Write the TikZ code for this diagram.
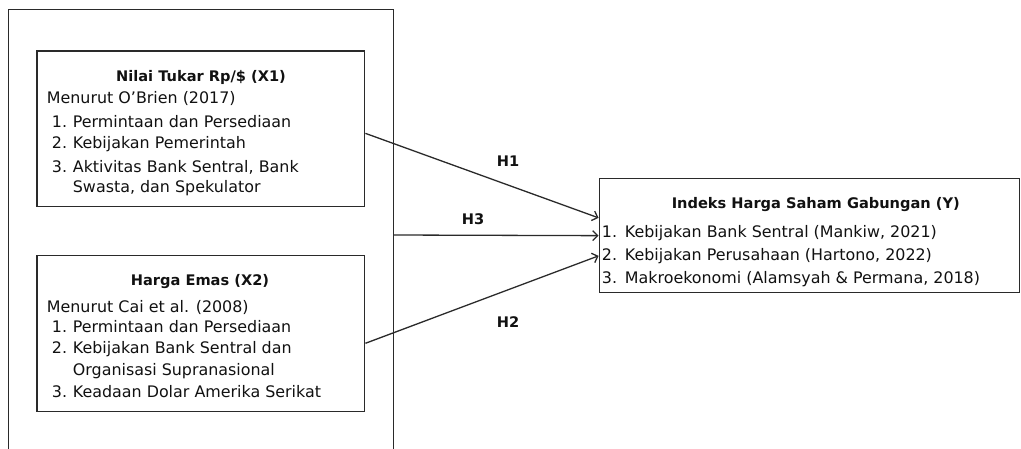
\documentclass[tikz,border=0pt]{standalone}
\usepackage{fontspec}
\setmainfont{DejaVu Sans}
\usetikzlibrary{arrows.meta}
\definecolor{ln}{HTML}{2A2A2A}
\definecolor{tx}{HTML}{111111}
\tikzset{
  box/.style={draw=ln, line width=1.45pt, inner sep=0pt, fill=none},
  txt/.style={anchor=base west, inner sep=0pt, text=tx, font=\fontsize{15.9}{19}\selectfont},
  ttl/.style={anchor=base, inner sep=0pt, text=tx, font=\fontsize{14.6}{18}\selectfont\bfseries},
  conn/.style={draw=ln, line width=1.3pt, -{Straight Barb[length=5pt,width=10pt,line width=1.3pt]}},
  hlab/.style={anchor=center, inner sep=0pt, text=tx, font=\fontsize{14.6}{18}\selectfont\bfseries}
}
\newcommand{\numA}[1]{\makebox[21pt][l]{#1}}
\newcommand{\numB}[1]{\makebox[23pt][l]{#1}}
\begin{document}
\begin{tikzpicture}[x=1pt,y=-1pt]
\useasboundingbox (0,0) rectangle (1021,448);
% outer frame (bottom edge lies outside the picture)
\draw[ln, line width=1.45pt] (8.5,452) -- (8.5,9.5) -- (393.3,9.5) -- (393.3,452);
\coordinate (o3) at (393.3,235);

% boxes
\node[box, minimum width=327.7pt, minimum height=155.7pt] (x1) at (200.85,128.85) {};
\node[box, minimum width=327.7pt, minimum height=156.2pt] (x2) at (200.85,333.6) {};
\node[box, minimum width=420.2pt, minimum height=114.1pt] (y) at (809.4,235.65) {};

% X1 text
\node[ttl] (x1t) at (201,81.3) {Nilai Tukar Rp/\$ (X1)};
\node[txt] (x1a) at (46.7,103.3) {Menurut O’Brien (2017)};
\node[txt] (x1b) at (51.7,127) {\numA{1.}Permintaan dan Persediaan};
\node[txt] (x1c) at (51.7,148.6) {\numA{2.}Kebijakan Pemerintah};
\node[txt] (x1d) at (51.7,172) {\numA{3.}Aktivitas Bank Sentral, Bank};
\node[txt] (x1e) at (72.7,192) {Swasta, dan Spekulator};

% X2 text
\node[ttl] (x2t) at (200,285.3) {Harga Emas (X2)};
\node[txt] (x2a) at (46.7,312) {Menurut Cai et al. (2008)};
\node[txt] (x2b) at (51.7,332) {\numA{1.}Permintaan dan Persediaan};
\node[txt] (x2c) at (51.7,353.6) {\numA{2.}Kebijakan Bank Sentral dan};
\node[txt] (x2d) at (72.7,375.3) {Organisasi Supranasional};
\node[txt] (x2e) at (51.7,397) {\numA{3.}Keadaan Dolar Amerika Serikat};

% Y text
\node[ttl] (yt) at (815.8,208.3) {Indeks Harga Saham Gabungan (Y)};
\node[txt] (ya) at (601.7,237) {\numB{1.}Kebijakan Bank Sentral (Mankiw, 2021)};
\node[txt] (yb) at (601.7,260.3) {\numB{2.}Kebijakan Perusahaan (Hartono, 2022)};
\node[txt] (yc) at (601.7,283.6) {\numB{3.}Makroekonomi (Alamsyah \& Permana, 2018)};

% connectors
\draw[conn] ([yshift=-4.5pt]x1.east) -- ([yshift=17.8pt]y.west);
\draw[conn] (o3) -- (y.west);
\draw[conn] ([yshift=-9.7pt]x2.east) -- ([yshift=-20.2pt]y.west);

% labels
\node[hlab] (h1) at (508,160.7) {H1};
\node[hlab] (h3) at (473,219) {H3};
\node[hlab] (h2) at (508,322) {H2};
\end{tikzpicture}
\end{document}
